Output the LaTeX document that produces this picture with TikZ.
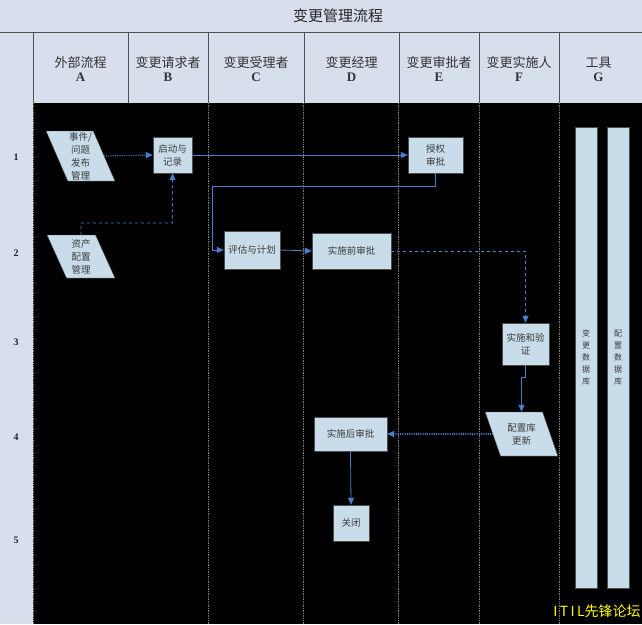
\documentclass[tikz,border=0pt]{standalone}
\usepackage{fontspec}
\setmainfont{Liberation Serif}
\newfontfamily\cjk{Noto Sans CJK SC}
\usepackage{xcolor}
\usetikzlibrary{arrows.meta,positioning,calc,shapes.geometric}
\definecolor{panel}{HTML}{D6DFEB}
\definecolor{boxfill}{HTML}{C8DDE9}
\definecolor{flowc}{HTML}{4A7DCB}
\definecolor{lanec}{HTML}{7A7A7A}
\definecolor{ink}{HTML}{3C3C3C}
\definecolor{gridc}{HTML}{505050}
\definecolor{mark}{HTML}{FFFF00}

\begin{document}
\begin{tikzpicture}[
  x=1pt, y=-1pt,
  >={Triangle[length=7pt,width=6pt]},
  hdr/.style={align=center, text=black!80, font=\cjk\fontsize{13}{17}\selectfont},
  rowno/.style={font=\rmfamily\bfseries\fontsize{10}{12}\selectfont, text=black!85},
  lane/.style={lanec, densely dotted, line width=0.7pt},
  task/.style={draw=black!70, fill=boxfill, align=center, inner sep=1pt, text=ink,
    font=\cjk\fontsize{9.5}{13}\selectfont},
  io/.style={task, trapezium, trapezium stretches=true},
  store/.style={draw=black!70, fill=boxfill, align=center, inner sep=0pt, text=ink,
    font=\cjk\fontsize{8}{12}\selectfont},
  flow/.style={->, flowc, line width=0.8pt},
  flowdash/.style={flow, dashed},
  flowdot/.style={flow, densely dotted, line width=1.2pt},
]
\useasboundingbox (0,0) rectangle (642,624);

% ---------- frame and header ----------
\fill[panel] (0,0) rectangle (642,624);
\fill[black] (33,103) rectangle (642,624);
\draw[gridc] (0,32) -- (642,32);
\foreach \lx in {33,128,208,304,399,479,559} \draw[gridc] (\lx,32) -- (\lx,103);
\node[font=\cjk\fontsize{15}{17}\selectfont, text=black!85] (title) at (338,16) {变更管理流程};

\foreach \cx/\ttl/\ltr in {80.5/外部流程/A, 168/变更请求者/B, 256/变更受理者/C,
    351.5/变更经理/D, 439/变更审批者/E, 519/变更实施人/F, 598.5/工具/G}
  \node[hdr] (h\ltr) at (\cx,69) {\ttl\\[-3pt]{\rmfamily\bfseries\ltr}};

% lanes (no divider between A and B)
\foreach \lx in {33,208,303,398,479,559} \draw[lane] (\lx,103) -- (\lx,624);

% row numbers
\foreach \ry/\n in {157/1, 253/2, 342/3, 437/4, 540/5}
  \node[rowno] (r\n) at (16,\ry) {\n};

% ---------- activities ----------
\node[io, trapezium left angle=113, trapezium right angle=67,
  minimum width=69, minimum height=50] (evt) at (80.5,156) {事件/\\问题\\发布\\管理};
\node[io, trapezium left angle=111, trapezium right angle=69,
  minimum width=68, minimum height=43] (asset) at (81,256.5) {资产\\配置\\管理};
\node[task, minimum width=39, minimum height=36] (req) at (172.5,155) {启动与\\记录};
\node[task, minimum width=55, minimum height=36] (auth) at (435.5,155) {授权\\审批};
\node[task, minimum width=56, minimum height=38] (plan) at (252,250) {评估与计划};
\node[task, minimum width=79, minimum height=36] (pre) at (351.5,251) {实施前审批};
\node[task, minimum width=47, minimum height=42] (impl) at (525.5,344) {实施和验\\证};
\node[io, trapezium left angle=115, trapezium right angle=65,
  minimum width=73, minimum height=44] (upd) at (521.5,434) {配置库\\更新};
\node[task, minimum width=73, minimum height=34] (post) at (350.5,434) {实施后审批};
\node[task, minimum width=36, minimum height=36] (close) at (351,523) {关闭};

% ---------- tools ----------
\node[store, minimum width=22, minimum height=461] (chgdb) at (586,357.5) {变\\更\\数\\据\\库};
\node[store, minimum width=22, minimum height=461] (cfgdb) at (618,357.5) {配\\置\\数\\据\\库};

% ---------- flow ----------
\coordinate (j1) at (81,223);
\coordinate (j2) at (212,186);
\draw[flowdot] (evt.east) -- (req.west);
\draw[flowdash] (asset.north) -- (j1) -| (req.south);
\draw[flow] (req.east) -- (auth.west);
\draw[flow] (auth.south) |- (j2) |- (plan.west);
\draw[flow] (plan.east) -- (pre.west);
\draw[flowdash] (pre.east) -| (impl.north);
\draw[flow] (impl.south) -- ++(0,12) -| (upd.north);
\draw[flowdot, line width=1.6pt] (upd.west) -- (post.east);
\draw[flow] (post.south) -- (close.north);

\node[text=mark, font=\cjk\fontsize{14}{16}\selectfont] (wm) at (597,611) {I\,T\,I\,L先锋论坛};
\end{tikzpicture}
\end{document}
